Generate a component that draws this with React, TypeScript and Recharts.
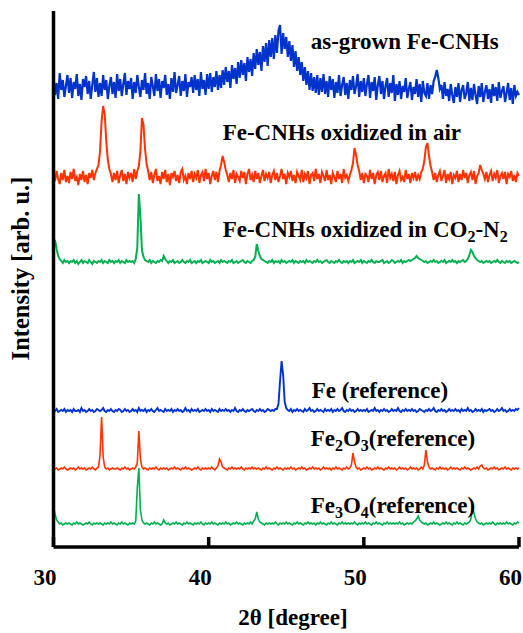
import React from 'react';
import { LineChart, Line, XAxis, YAxis } from 'recharts';

// 2θ sampling grid, 30°–60° in 0.1° steps
const twoTheta: number[] = Array.from({ length: 301 }, (_, i) => Math.round(300 + i) / 10);

// Vertical stacking offsets of each pattern (arb. u.)
const offsets = { asGrown: 460, air: 370, co2: 285, fe: 136, fe2o3: 78, fe3o4: 23 };

// Intensities (arb. u.), one row per degree (30.0 … 30.9, 31.0 …)
const asGrown = [
  10, -8, 4, -12, 14, -3, 7, -10, 1, 12,
  -6, 9, -11, 5, -2, 13, -9, 3, -13, 8,
  0, 11, -7, 6, -12, 2, 15, -5, 9, -10,
  4, -9, 12, -3, 7, -12, 1, 10, -7, 5,
  -11, 13, -4, 8, -9, 3, 14, -8, 6, -2,
  9, -12, 5, -6, 12, 0, -10, 7, -3, 14,
  -7, 4, -12, 10, 1, -9, 13, -4, 8, -11,
  6, -1, 12, -8, 3, -12, 9, -5, 15, -6,
  2, 11, -9, 6, -4, 13, -10, 5, 0, 10,
  -6, 12, -3, 8, -9, 15, -2, 7, -8, 13,
  -2, 14, -5, 10, 0, 16, -3, 12, -1, 17,
  2, 20, 5, 16, -1, 22, 8, 19, 3, 25,
  9, 27, 12, 24, 6, 30, 15, 28, 11, 34,
  18, 38, 22, 35, 16, 41, 25, 44, 21, 47,
  30, 49, 28, 52, 34, 56, 62, 33, 54, 38,
  50, 30, 46, 26, 42, 20, 36, 16, 30, 12,
  25, 6, 20, 2, 16, -3, 14, -4, 10, -6,
  12, -8, 9, -5, 13, -7, 6, -10, 11, -3,
  8, -11, 5, -6, 12, -9, 2, 10, -8, 4,
  -12, 7, -3, 11, -7, 1, 13, -10, 6, -5,
  9, -9, 3, 12, -11, 5, -4, 10, -13, 2,
  11, -7, 6, -12, 1, 9, -10, 4, -6, 12,
  -14, 3, -8, 6, -12, 1, -5, 9, -11, -2,
  5, -13, 0, -7, 8, -10, 3, -15, 6, -6,
  -9, 4, -12, 2, -7, 6, 10, 17, 9, -2,
  2, -12, 5, -9, -2, -14, 3, -8, -16, 0,
  -10, 4, -15, -3, 2, -12, -6, 5, -14, -1,
  -13, 3, -8, -17, 1, -10, 4, -15, -5, 2,
  -12, -2, -16, 3, -9, 0, -14, 5, -11, -4,
  1, -15, -6, 4, -13, -1, -17, 2, -9, -5,
  -8,
];

const oxidizedAir = [
  3, -4, 6, -2, -7, 4, -3, 7, -5, 1,
  -6, 5, -2, 8, -4, 0, -8, 3, -3, 6,
  -5, 2, -7, 4, -1, 7, -3, 4, 8, 12,
  26, 56, 71, 63, 36, 17, 8, 3, -5, 4,
  -3, 6, -6, 2, 7, -4, 3, -7, 5, -1,
  4, -5, 8, -2, 6, 11, 26, 59, 52, 28,
  13, 6, -3, 5, -6, 2, 8, -4, 1, -7,
  5, -2, 7, -5, 3, -8, 4, 0, 6, -4,
  2, -6, 5, 8, -3, 1, -7, 4, -2, 6,
  -5, 3, -1, 7, -6, 2, 5, -4, 8, -2,
  4, -7, 1, 6, -3, 5, -5, 6, 12, 21,
  15, 7, 2, -5, 4, -2, 7, -6, 3, 0,
  -4, 6, -1, 5, -7, 3, 8, -3, 2, -5,
  6, -2, 4, -6, 1, 7, -4, 3, -1, 5,
  -6, 2, 6, -3, 4, -5, 1, 8, -2, 3,
  -7, 4, 0, 6, -4, 2, -6, 5, 1, -3,
  7, -5, 3, -1, 6, -7, 2, 4, -4, 8,
  -2, 3, -6, 5, 1, -4, 7, -3, 2, -7,
  4, 0, -5, 6, -2, 3, -6, 8, -1, 2,
  -4, 2, 7, 14, 29, 22, 12, 6, -3, 4,
  -6, 3, 1, -5, 7, -2, 4, -7, 2, 5,
  -3, 6, -5, 1, 4, -6, 8, -1, 3, -4,
  5, -7, 2, 6, -3, 0, -5, 7, -2, 3,
  -6, 4, -1, 5, -4, 2, -2, 5, 8, 16,
  30, 34, 21, 11, 5, -3, 4, -5, 2, 6,
  -4, 1, 7, -6, 3, -2, 5, -7, 2, -1,
  6, -5, 3, -3, 7, -1, 4, -6, 2, 5,
  -3, 6, -7, 1, 4, 12, 7, 3, -2, 5,
  -5, 2, 6, -4, 3, -1, 7, -6, 1, 4,
  -2, 5, -7, 3, 0, 6, -4, 2, -5, 4,
  1,
];

const oxidizedCO2N2 = [
  14, 22, 13, 6, 3, 1, -1, 2, 0, 1,
  -1, 1, 0, 2, -1, 1, -2, 0, 2, -1,
  1, 0, -1, 2, 0, -2, 1, 0, -1, 1,
  0, 2, -1, 1, 0, -1, 2, 0, 1, -1,
  1, 0, 2, -1, 1, 0, -1, 2, 0, 1,
  0, 1, -1, 3, 14, 68, 46, 12, 5, 2,
  1, 0, 2, -1, 1, 0, -1, 1, 0, 2,
  1, 6, 3, 1, -1, 1, 0, 2, -1, 0,
  1, -1, 0, 2, 0, -1, 1, 0, 2, -1,
  0, 1, -1, 1, 0, 2, -1, 0, 1, 0,
  -1, 2, 0, 1, -1, 0, 1, -1, 2, 0,
  1, 0, -1, 1, 0, 2, -1, 0, 1, -1,
  0, 1, 2, 0, -1, 1, 0, -1, 1, 2,
  5, 18, 11, 6, 3, 2, 1, 0, -1, 1,
  0, 2, -1, 1, 0, 1, -1, 2, 0, 1,
  -1, 0, 1, 0, 2, -1, 1, 0, -1, 1,
  0, 1, -1, 2, 0, 1, 0, -1, 1, 0,
  2, 0, 1, -1, 0, 1, 2, 0, -1, 1,
  0, -1, 1, 0, 2, 0, -1, 1, 0, 1,
  -1, 1, 0, 2, -1, 0, 1, 0, 2, -1,
  1, 0, -1, 1, 0, 2, 0, -1, 1, 0,
  0, 1, 2, -1, 0, 1, -1, 0, 2, 1,
  -1, 0, 1, 0, 2, -1, 1, 0, 1, 2,
  1, 2, 3, 4, 6, 4, 3, 2, 1, 0,
  1, -1, 0, 1, 0, 2, 0, 1, -1, 0,
  1, 0, 2, -1, 0, 1, 0, 2, 0, 1,
  -1, 1, 0, 1, 2, 0, 1, 3, 7, 12,
  10, 6, 4, 2, 1, 0, 1, -1, 0, 1,
  0, 1, -1, 0, 1, 0, 2, 0, -1, 1,
  0, -1, 1, 0, 1, -1, 0, 1, 0, -1,
  0,
];

const feRef = [
  1, 0, 2, -1, 0, 1, 0, 2, -1, 1,
  0, 1, -1, 2, 0, 0, 1, -1, 3, 0,
  1, -1, 0, 2, 0, 1, -1, 0, 2, 1,
  0, 1, 3, 0, -1, 1, 0, 2, 0, -1,
  1, 0, 2, 1, -1, 0, 2, 0, 1, -1,
  0, 2, 0, 1, -1, 3, 0, 1, 0, 2,
  -1, 1, 0, 2, 0, -1, 1, 3, 0, 1,
  0, -1, 2, 0, 1, 0, 2, -1, 1, 0,
  2, 0, 1, -1, 0, 3, 0, 1, -1, 2,
  0, 1, 0, 2, -1, 0, 1, 0, 2, 0,
  1, -1, 2, 0, 1, 0, -1, 2, 0, 1,
  0, 2, 0, 1, -1, 1, 0, 3, 0, -1,
  1, 0, 2, 0, -1, 1, 0, 1, 2, 0,
  -1, 1, 0, 2, 0, 1, -1, 0, 2, 1,
  0, 1, 0, 2, 2, 7, 30, 50, 36, 9,
  3, 1, 0, 2, -1, 1, 0, 2, 0, 1,
  0, -1, 2, 0, 1, 3, 0, 1, -1, 0,
  2, 0, 1, 0, -1, 2, 0, 1, 0, 2,
  -1, 1, 0, 2, 0, 1, 3, 0, -1, 1,
  0, 2, 0, 1, -1, 0, 2, 0, 1, 0,
  1, 0, 2, -1, 0, 1, 0, 3, 0, 1,
  -1, 1, 0, 2, 0, 1, -1, 0, 2, 0,
  1, 0, 3, 0, -1, 1, 0, 2, 0, 1,
  0, 2, 0, 1, -1, 0, 2, 1, 0, -1,
  1, 0, 2, 0, 1, 3, 0, -1, 1, 0,
  2, 0, 1, -1, 0, 2, 0, 1, 0, 2,
  0, 1, -1, 2, 0, 1, 0, 3, 0, 1,
  -1, 0, 2, 0, 1, 0, 2, -1, 1, 0,
  1, 2, 0, 1, -1, 0, 2, 0, 1, 3,
  0, 1, -1, 0, 2, 0, 1, 0, 2, 1,
  3,
];

const fe2o3Ref = [
  1, 0, 1, -1, 0, 1, 0, 2, 0, -1,
  0, 1, 0, 1, -1, 0, 2, 0, 1, 0,
  1, -1, 0, 1, 0, 2, 0, -1, 1, 2,
  14, 52, 12, 2, 0, 1, -1, 0, 1, 0,
  0, 1, 0, -1, 1, 0, 2, 0, 1, -1,
  0, 1, 0, 2, 6, 38, 10, 2, 0, 1,
  0, -1, 1, 0, 1, 0, 2, 0, -1, 1,
  0, 1, 0, 1, -1, 0, 1, 0, 2, 0,
  1, 0, -1, 1, 0, 2, 0, 1, 0, -1,
  0, 1, 0, 2, 0, -1, 1, 0, 1, 0,
  1, 0, 2, 0, -1, 1, 3, 10, 7, 2,
  1, 0, -1, 1, 0, 2, 0, 1, 0, 1,
  0, 2, 0, -1, 1, 0, 1, 0, 2, 0,
  1, 0, 1, 0, -1, 1, 0, 2, 0, 1,
  0, -1, 1, 0, 2, 0, 1, 0, -1, 1,
  0, 1, 0, 2, 0, 1, -1, 0, 1, 0,
  2, 0, 1, -1, 0, 1, 0, 2, 0, 1,
  0, 1, -1, 0, 2, 0, 1, 0, 1, -1,
  1, 0, 2, 0, 1, 0, -1, 1, 0, 2,
  0, 1, 4, 16, 7, 2, 0, 1, -1, 0,
  1, 0, 2, 0, 1, -1, 0, 1, 0, 2,
  0, 1, 0, -1, 1, 0, 2, 0, 1, 0,
  1, -1, 0, 2, 0, 1, 0, 1, -1, 0,
  2, 0, 1, 0, 1, -1, 0, 2, 0, 4,
  19, 7, 2, 0, 1, 0, -1, 1, 0, 2,
  0, 1, 0, 1, -1, 0, 2, 0, 1, 0,
  1, 0, -1, 1, 0, 2, 0, 1, 0, -1,
  0, 1, 0, 2, 0, 3, 4, 1, 0, 1,
  -1, 0, 1, 0, 2, 0, 1, -1, 0, 1,
  0, 2, 0, 1, 0, -1, 1, 0, 1, 0,
  1,
];

const fe3o4Ref = [
  17, 10, 4, 2, 0, 1, -1, 0, 1, 0,
  1, 0, -1, 1, 0, 2, 0, 1, 0, -1,
  0, 1, 0, 2, 0, -1, 1, 0, 1, 0,
  1, 0, -1, 1, 0, 1, 0, 2, 0, 1,
  0, -1, 1, 0, 2, 0, 1, 0, -1, 1,
  0, 1, 0, 3, 36, 56, 14, 4, 1, 0,
  1, 0, -1, 1, 0, 2, 0, 1, 0, -1,
  0, 4, 1, 0, 1, -1, 0, 1, 0, 2,
  0, 1, 0, -1, 1, 0, 2, 0, 1, 0,
  -1, 1, 0, 1, 0, 2, 0, -1, 1, 0,
  1, 0, 2, 0, 1, 0, -1, 1, 0, 1,
  0, 2, 0, 1, -1, 0, 1, 0, 2, 0,
  1, 0, -1, 1, 0, 1, 0, 2, 0, 3,
  5, 12, 5, 2, 1, 0, -1, 1, 0, 1,
  0, 1, 0, 2, 0, -1, 1, 0, 1, 0,
  2, 0, 1, 0, -1, 1, 0, 2, 0, 1,
  0, -1, 1, 0, 2, 0, 1, 0, 1, -1,
  1, 0, 2, 0, 1, 0, -1, 1, 0, 2,
  0, 1, 0, -1, 1, 0, 2, 0, 1, 0,
  1, 0, 1, 0, 2, 0, -1, 1, 0, 1,
  0, 2, 0, 1, 0, -1, 1, 0, 2, 0,
  1, 0, -1, 1, 0, 2, 0, 1, 0, 1,
  0, 1, 0, 2, 0, 1, -1, 0, 1, 0,
  1, 0, 2, 3, 5, 8, 4, 2, 1, 0,
  1, -1, 0, 1, 0, 2, 0, 1, 0, -1,
  0, 1, 0, 2, 0, 1, 0, -1, 1, 0,
  2, 0, 1, 0, -1, 1, 0, 1, 2, 5,
  16, 11, 5, 2, 1, 0, 1, -1, 0, 1,
  0, 1, 0, 2, 0, -1, 1, 0, 1, 0,
  1, 0, 2, 0, 1, 0, -1, 1, 0, 2,
  1,
];

const xTicks = [30, 40, 50, 60];

const BLUE = '#0033cc';
const RED = '#ff3300';
const GREEN = '#00b050';
const FONT = "'Liberation Serif', 'Times New Roman', serif";

const table = twoTheta.map((x, i) => ({
  x,
  asGrown: offsets.asGrown + asGrown[i],
  air: offsets.air + oxidizedAir[i],
  co2: offsets.co2 + oxidizedCO2N2[i],
  fe: offsets.fe + feRef[i],
  fe2o3: offsets.fe2o3 + fe2o3Ref[i],
  fe3o4: offsets.fe3o4 + fe3o4Ref[i],
}));

const BottomTick = (props: any) => {
  const { x, y, payload } = props;
  return (
    <g>
      <line x1={x} x2={x} y1={y} y2={y - 10} stroke="#000" strokeWidth={3.5} />
      <text x={x - 8.5} y={y + 38} textAnchor="middle" fontFamily={FONT} fontWeight="bold" fontSize={23} fill="#000">
        {payload.value}
      </text>
    </g>
  );
};

const XLabel = () => (
  <text x={293} y={625} textAnchor="middle" fontFamily={FONT} fontWeight="bold" fontSize={23} fill="#000">
    2θ [degree]
  </text>
);

const YLabel = () => (
  <text
    x={28.5}
    y={268.5}
    transform="rotate(-90, 28.5, 268.5)"
    textAnchor="middle"
    fontFamily={FONT}
    fontWeight="bold"
    fontSize={24.5}
    fill="#000"
  >
    Intensity [arb. u.]
  </text>
);

const Sub = ({ children }: { children: React.ReactNode }) => (
  <tspan fontSize={16} dy={5}>{children}</tspan>
);

const axisStyle = { stroke: '#000', strokeWidth: 3.5 };

export default function App() {
  const txt = { fontFamily: FONT, fontWeight: 'bold' as const, fontSize: 23, fill: '#000' };
  return (
    <div style={{ position: 'absolute', left: 0, top: 0, width: 523, height: 633, background: '#fff' }}>
      <LineChart width={523} height={633} data={table} margin={{ top: 11, right: 4, bottom: 0, left: 0 }}>
        <XAxis
          dataKey="x"
          type="number"
          domain={[30, 60]}
          ticks={xTicks}
          height={86}
          axisLine={axisStyle}
          tickLine={false}
          tickSize={0}
          tickMargin={0}
          tick={<BottomTick />}
          interval={0}
          label={{ content: () => <XLabel /> }}
        />
        <XAxis
          xAxisId="top"
          orientation="top"
          type="number"
          domain={[30, 60]}
          height={0}
          tick={false}
          tickLine={false}
          axisLine={axisStyle}
        />
        <YAxis
          type="number"
          domain={[0, 536]}
          width={53.5}
          tick={false}
          tickLine={false}
          axisLine={axisStyle}
          label={{ content: () => <YLabel /> }}
        />
        <YAxis
          yAxisId="right"
          orientation="right"
          type="number"
          domain={[0, 536]}
          width={0}
          tick={false}
          tickLine={false}
          axisLine={axisStyle}
        />
        <Line dataKey="asGrown" stroke={BLUE} strokeWidth={2.2} dot={false} isAnimationActive={false} />
        <Line dataKey="air" stroke={RED} strokeWidth={2} dot={false} isAnimationActive={false} />
        <Line dataKey="co2" stroke={GREEN} strokeWidth={2} dot={false} isAnimationActive={false} />
        <Line dataKey="fe" stroke={BLUE} strokeWidth={1.9} dot={false} isAnimationActive={false} />
        <Line dataKey="fe2o3" stroke={RED} strokeWidth={1.6} dot={false} isAnimationActive={false} />
        <Line dataKey="fe3o4" stroke={GREEN} strokeWidth={1.6} dot={false} isAnimationActive={false} />
      </LineChart>
      <svg width={523} height={633} style={{ position: 'absolute', left: 0, top: 0, pointerEvents: 'none' }}>
        <text x={310.7} y={49} {...txt}>as-grown Fe-CNHs</text>
        <text x={222.7} y={140} {...txt}>Fe-CNHs oxidized in air</text>
        <text x={222.7} y={236.5} {...txt}>
          Fe-CNHs oxidized in CO<Sub>2</Sub>
          <tspan dy={-5}>-N</tspan>
          <Sub>2</Sub>
        </text>
        <text x={311.7} y={398} {...txt}>Fe (reference)</text>
        <text x={310.7} y={446} {...txt}>
          Fe<Sub>2</Sub>
          <tspan dy={-5}>O</tspan>
          <Sub>3</Sub>
          <tspan dy={-5}>(reference)</tspan>
        </text>
        <text x={310.7} y={512.7} {...txt}>
          Fe<Sub>3</Sub>
          <tspan dy={-5}>O</tspan>
          <Sub>4</Sub>
          <tspan dy={-5}>(reference)</tspan>
        </text>
      </svg>
    </div>
  );
}
